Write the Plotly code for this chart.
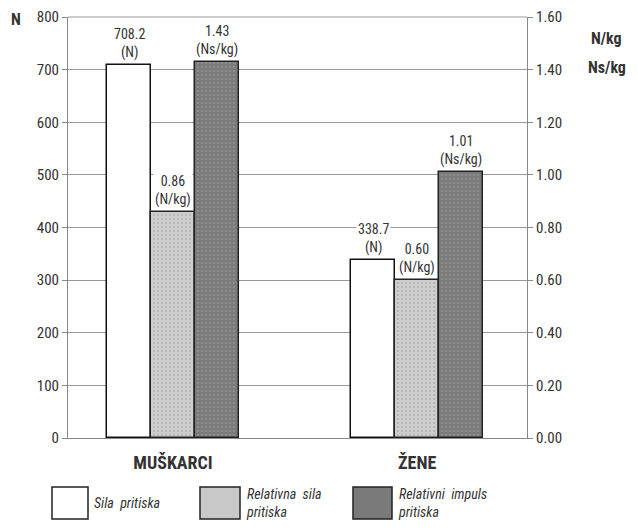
import plotly.graph_objects as go

groups = ["MUŠKARCI", "ŽENE"]
sila_N = [708.2, 338.7]
rel_sila = [0.86, 0.60]
rel_impuls = [1.43, 1.01]
series_names = ["Sila pritiska", "Relativna sila pritiska", "Relativni impuls pritiska"]
left_ticks = [0, 100, 200, 300, 400, 500, 600, 700, 800]
right_ticks = [0, 0.2, 0.4, 0.6, 0.8, 1.0, 1.2, 1.4, 1.6]

FONT = "Roboto Condensed, Liberation Sans Narrow, Roboto, Arial, sans-serif"
TXT = "#333333"
W = 0.18

# page offset (browser body margin)
OFF = 8
FW, FH = 638 - 2 * OFF, 528 - 2 * OFF
pl, pr, pt, pb = 68 - OFF, 527 - OFF, 17 - OFF, 438 - OFF


def px_x(px):
    return (px - OFF - pl) / (pr - pl)


def px_y(py):
    return (pb - (py - OFF)) / (pb - pt)


fig = go.Figure()
fig.add_trace(go.Bar(x=groups, y=sila_N, name=series_names[0], width=W, offset=-0.27,
                     marker=dict(color="white", line=dict(color="#111", width=1.5)),
                     yaxis="y"))
fig.add_trace(go.Bar(x=groups, y=rel_sila, name=series_names[1], width=W, offset=-0.09,
                     marker=dict(color="#c8c8c8", line=dict(color="#222", width=1.5),
                                 pattern=dict(shape=".", bgcolor="#cecece", fgcolor="#a4a4a4", size=4, solidity=0.3)),
                     yaxis="y2"))
fig.add_trace(go.Bar(x=groups, y=rel_impuls, name=series_names[2], width=W, offset=0.09,
                     marker=dict(color="#777", line=dict(color="#222", width=1.5),
                                 pattern=dict(shape=".", bgcolor="#7a7a7a", fgcolor="#a0a0a0", size=4, solidity=0.3)),
                     yaxis="y2"))

# value labels
for i, g in enumerate(groups):
    fig.add_annotation(x=i - 0.18, y=sila_N[i], xref="x", yref="y", text=f"{sila_N[i]:.1f}<br>(N)",
                       showarrow=False, yanchor="bottom", yshift=2, bgcolor="white",
                       font=dict(family=FONT, size=14, color=TXT))
    fig.add_annotation(x=i, y=rel_sila[i], xref="x", yref="y2", text=f"{rel_sila[i]:.2f}<br>(N/kg)",
                       showarrow=False, yanchor="bottom", yshift=2, bgcolor="white",
                       font=dict(family=FONT, size=14, color=TXT))
    fig.add_annotation(x=i + 0.18, y=rel_impuls[i], xref="x", yref="y2", text=f"{rel_impuls[i]:.2f}<br>(Ns/kg)",
                       showarrow=False, yanchor="bottom", yshift=2, bgcolor="white",
                       font=dict(family=FONT, size=14, color=TXT))

# axis unit titles
fig.add_annotation(x=px_x(16), y=px_y(19), xref="paper", yref="paper", text="<b>N</b>", showarrow=False,
                   xanchor="center", yanchor="middle", font=dict(family=FONT, size=16, color=TXT))
fig.add_annotation(x=px_x(590), y=px_y(39), xref="paper", yref="paper", text="<b>N/kg</b>", showarrow=False,
                   xanchor="left", yanchor="middle", borderpad=0, font=dict(family=FONT, size=16, color=TXT))
fig.add_annotation(x=px_x(587), y=px_y(68), xref="paper", yref="paper", text="<b>Ns/kg</b>", showarrow=False,
                   xanchor="left", yanchor="middle", borderpad=0, font=dict(family=FONT, size=16, color=TXT))

# custom legend (paper coordinates)
legend_items = [
    ("white", 52, 88, "<i>Sila  pritiska</i>"),
    ("#c8c8c8", 200, 240, "<i>Relativna  sila<br>pritiska</i>"),
    ("#7a7a7a", 353, 392, "<i>Relativni  impuls<br>pritiska</i>"),
]
for color, x0, x1, txt in legend_items:
    fig.add_shape(type="rect", xref="paper", yref="paper", x0=px_x(x0), x1=px_x(x1),
                  y0=px_y(519), y1=px_y(487), line=dict(color="#222", width=1.5), fillcolor=color)
    fig.add_annotation(x=px_x(x1 + 4), y=px_y(503), xref="paper", yref="paper", text=txt,
                       showarrow=False, xanchor="left", yanchor="middle", align="left",
                       font=dict(family=FONT, size=14, color=TXT))

fig.update_layout(
    width=FW, height=FH,
    margin=dict(l=pl, r=FW - pr, t=pt, b=FH - pb, autoexpand=False),
    paper_bgcolor="white", plot_bgcolor="white",
    showlegend=False,
    bargap=0,
    font=dict(family=FONT, color=TXT),
    xaxis=dict(type="category", range=[-0.43, 1.45], showgrid=False, ticks="", automargin=False,
               showline=True, linecolor="#888", linewidth=1, ticklabelstandoff=8,
               tickfont=dict(family=FONT, size=18, color=TXT), ticklen=0,
               ticktext=[f"<b>{g}</b>" for g in groups], tickvals=groups),
    yaxis=dict(range=[0, 800], tickvals=left_ticks, showgrid=True, gridcolor="#9a9a9a", gridwidth=1,
               showline=True, linecolor="#888", linewidth=1, ticks="outside", ticklen=5, automargin=False,
               tickcolor="#888", tickfont=dict(family=FONT, size=15, color=TXT), zeroline=False),
    yaxis2=dict(range=[0, 1.6], tickvals=right_ticks, tickformat=".2f", overlaying="y", side="right",
                showgrid=False, showline=True, linecolor="#888", linewidth=1, ticks="outside", automargin=False,
                ticklen=5, tickcolor="#888", tickfont=dict(family=FONT, size=15, color=TXT), zeroline=False),
)
fig.add_shape(type="line", xref="paper", yref="paper", x0=0, x1=1, y0=1, y1=1,
              line=dict(color="#9a9a9a", width=1))

fig.write_html("out.html")
